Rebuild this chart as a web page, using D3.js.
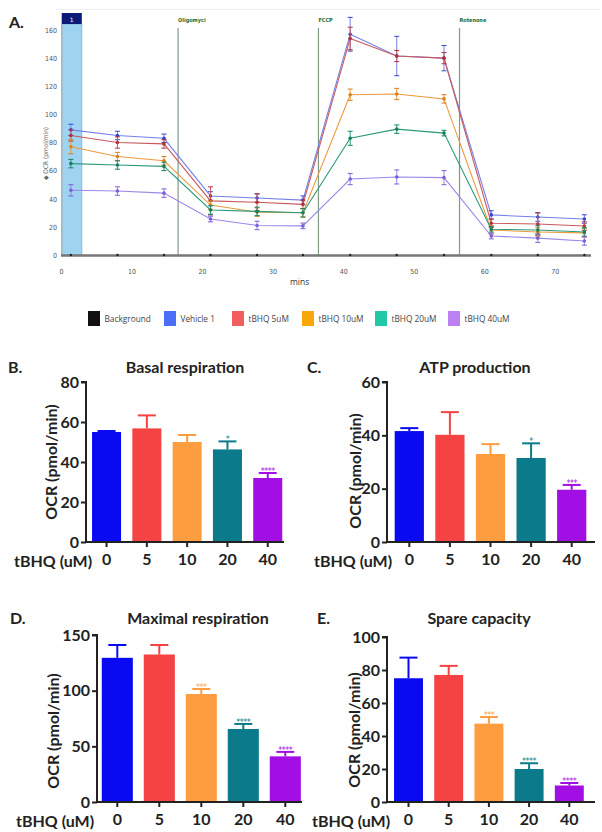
<!DOCTYPE html>
<html><head><meta charset="utf-8">
<script src="https://cdn.jsdelivr.net/npm/d3@7"></script>
<style>body{margin:0;background:#fff}svg{display:block}</style>
</head><body>
<svg id="c" width="602" height="832"></svg>
<script>
// ---------- Panel A data ----------
const times = [1.4, 8, 14.6, 21.2, 27.8, 34.3, 41, 47.6, 54.3, 61, 67.6, 74.2];
const seriesNames = ["Background", "Vehicle 1", "tBHQ 5uM", "tBHQ 10uM", "tBHQ 20uM", "tBHQ 40uM"];
const background = [0,0,0,0,0,0,0,0,0,0,0,0];
const vehicle = [89, 85, 83, 42, 40.5, 39, 157, 141.5, 140, 28.5, 27, 25.6];
const tbhq5 = [85, 80, 79, 38.5, 37.5, 36, 154, 141.5, 140, 22.6, 22, 20.6];
const tbhq10 = [77, 70, 67, 35.5, 30.5, 30, 114, 114.5, 111, 17.8, 16.4, 15.7];
const tbhq20 = [65, 64, 63, 32, 31, 30, 83, 89.5, 86.7, 18.3, 17.8, 16.4];
const tbhq40 = [46, 45.5, 44, 25.6, 21, 20.7, 54, 55.5, 55, 13.5, 12, 10];
const errBackground = [0,0,0,0,0,0,0,0,0,0,0,0];
const errVehicle = [4, 3, 3, 3, 3, 3, 12, 14, 9, 3, 3, 3];
const errT5 = [4, 4, 3, 10, 6, 3, 8, 4, 4, 3, 8, 3];
const errT10 = [5, 3, 3, 3, 3, 3, 4, 4, 3, 3, 3, 3];
const errT20 = [3, 3, 3, 3, 3, 3, 5, 3, 2, 2, 3, 3];
const errT40 = [4, 3, 3, 2, 3, 2, 4, 5, 5, 2, 3, 3];
const yTicksA = [0, 20, 40, 60, 80, 100, 120, 140, 160];
const xTicksA = [0, 10, 20, 30, 40, 50, 60, 70];
const injections = [{t: 16.6, label: "Oligomyci"}, {t: 36.5, label: "FCCP"}, {t: 56.5, label: "Rotenone"}];

// ---------- Bar panels data ----------
const doses = ["0", "5", "10", "20", "40"];
const basalMean = [55, 56.8, 50, 46.3, 32];
const basalErr = [0.5, 6.5, 3.5, 4, 2.5];
const basalStars = ["", "", "", "*", "****"];
const atpMean = [41.6, 40.2, 33, 31.5, 19.6];
const atpErr = [1.1, 8.5, 3.7, 5.5, 1.8];
const atpStars = ["", "", "", "*", "***"];
const maxMean = [129.5, 132.5, 97, 65.6, 41];
const maxErr = [11.5, 8.5, 4.5, 4.5, 4];
const maxStars = ["", "", "***", "****", "****"];
const spareMean = [75, 77, 47.5, 20, 10];
const spareErr = [12.5, 5.5, 4, 3.5, 1.5];
const spareStars = ["", "", "***", "****", "****"];

const svg = d3.select("#c");

// ================= Panel A =================
const colA = {"Background":"#111111","Vehicle 1":"#7480e8","tBHQ 5uM":"#c85a5e","tBHQ 10uM":"#eb9a3c","tBHQ 20uM":"#2a9a7c","tBHQ 40uM":"#9c86e8"};
const mkA = {"Background":"#111111","Vehicle 1":"#3845c8","tBHQ 5uM":"#b2303a","tBHQ 10uM":"#d9801a","tBHQ 20uM":"#17805e","tBHQ 40uM":"#7a5ed8"};
const legCol = {"Background":"#111111","Vehicle 1":"#4a6ef5","tBHQ 5uM":"#f25e5e","tBHQ 10uM":"#f9a80a","tBHQ 20uM":"#1fc9a6","tBHQ 40uM":"#bb80f2"};
const valsA = [background, vehicle, tbhq5, tbhq10, tbhq20, tbhq40];
const errsA = [errBackground, errVehicle, errT5, errT10, errT20, errT40];

const xA = d3.scaleLinear().domain([0, 75]).range([61, 590]);
const yA = d3.scaleLinear().domain([0, 160]).range([255, 30]);
const gA = svg.append("g");

gA.append("line").attr("x1", 55).attr("x2", 600).attr("y1", 9.5).attr("y2", 9.5).attr("stroke", "#eeeeee");
gA.append("text").text("A.").attr("x", 9).attr("y", 28).attr("font-family", "Lato, sans-serif").attr("font-weight", "bold").attr("font-size", 16).attr("fill", "#222");

// blue band
gA.append("rect").attr("x", xA(0.1)).attr("y", 24).attr("width", xA(2.95) - xA(0.1)).attr("height", yA(0) - 24)
  .attr("fill", "#9fd4f0").attr("stroke", "#6cb4dc").attr("stroke-width", 0.8);
gA.append("rect").attr("x", xA(0.1)).attr("y", 13).attr("width", xA(2.95) - xA(0.1)).attr("height", 11).attr("fill", "#0c1a78");
gA.append("text").text("1").attr("x", (xA(0.1) + xA(2.95)) / 2).attr("y", 21.5).attr("text-anchor", "middle")
  .attr("font-family", "DejaVu Sans, sans-serif").attr("font-size", 6).attr("fill", "#fff");

// left axis line
gA.append("line").attr("x1", 62).attr("x2", 62).attr("y1", 24).attr("y2", 255).attr("stroke", "#aaaaaa").attr("stroke-width", 0.8);

// injections
injections.forEach(d => {
  gA.append("line").attr("x1", xA(d.t)).attr("x2", xA(d.t)).attr("y1", 28).attr("y2", 255).attr("stroke", "#809a84").attr("stroke-width", 1.2);
  gA.append("text").text(d.label).attr("x", xA(d.t)).attr("y", 21.5).attr("font-family", "Liberation Sans Narrow, DejaVu Sans Condensed, sans-serif")
    .attr("font-size", 5.5).attr("font-weight", "bold").attr("fill", "#2c6a2c");
});

// y axis ticks
const yAx = d3.axisLeft(yA).tickValues(yTicksA).tickSize(0).tickPadding(4);
const yAg = gA.append("g").attr("transform", "translate(61,0)").call(yAx);
yAg.select(".domain").remove();
yAg.selectAll("text").attr("font-family", "Liberation Sans Narrow, DejaVu Sans Condensed, sans-serif").attr("font-size", 7).attr("fill", "#555");

// x axis
const xAx = d3.axisBottom(xA).tickValues(xTicksA).tickSize(0).tickPadding(14);
const xAg = gA.append("g").attr("transform", "translate(0,255)").call(xAx);
xAg.select(".domain").remove();
xAg.selectAll("text").attr("font-family", "Liberation Sans Narrow, DejaVu Sans Condensed, sans-serif").attr("font-size", 7).attr("fill", "#555");
gA.append("line").attr("x1", 61).attr("x2", 591).attr("y1", 255.5).attr("y2", 255.5).attr("stroke", "#777").attr("stroke-width", 2.5);

gA.append("text").text("mins").attr("x", 290).attr("y", 285).attr("font-family", "Open Sans, sans-serif").attr("font-size", 8.5).attr("fill", "#333");
gA.append("text").text("◆ OCR (pmol/min)").attr("transform", "translate(48,180) rotate(-90)")
  .attr("font-family", "Liberation Sans Narrow, DejaVu Sans Condensed, sans-serif").attr("font-size", 6.5).attr("fill", "#666");

const lineA = d3.line().x((d, i) => xA(times[i])).y(d => yA(d));
seriesNames.forEach((name, si) => {
  if (si === 0) return;
  const vals = valsA[si], errs = errsA[si];
  gA.append("path").datum(vals).attr("d", lineA).attr("fill", "none").attr("stroke", colA[name]).attr("stroke-width", 1.1);
  vals.forEach((v, i) => {
    const x = xA(times[i]);
    gA.append("line").attr("x1", x).attr("x2", x).attr("y1", yA(v - errs[i])).attr("y2", yA(v + errs[i])).attr("stroke", colA[name]).attr("stroke-width", 1);
    [v - errs[i], v + errs[i]].forEach(e => gA.append("line").attr("x1", x - 2.5).attr("x2", x + 2.5).attr("y1", yA(e)).attr("y2", yA(e)).attr("stroke", mkA[name]).attr("stroke-width", 1));
    gA.append("circle").attr("cx", x).attr("cy", yA(v)).attr("r", 1.8).attr("fill", mkA[name]);
  });
});
// background markers
background.forEach((v, i) => gA.append("circle").attr("cx", xA(times[i])).attr("cy", yA(v)).attr("r", 1.2).attr("fill", "#222"));

// legend
const legX = [88, 164, 232, 302, 375, 448];
seriesNames.forEach((name, i) => {
  gA.append("rect").attr("x", legX[i]).attr("y", 311).attr("width", 12).attr("height", 15).attr("fill", legCol[name]);
  gA.append("text").text(name).attr("x", legX[i] + 16.5).attr("y", 321.5).attr("font-family", "Open Sans, sans-serif")
    .attr("font-size", 8.3).attr("fill", "#444");
});

// ================= Bar panels =================
const barCol = ["#0a0af2", "#f54242", "#fd9d40", "#0b7b8b", "#a20fe4"];
const FONT = "Lato, 'Open Sans', sans-serif";
const FS = 16;

function barPanel(o) {
  const g = svg.append("g");
  const y = d3.scaleLinear().domain([0, o.ymax]).range([o.y0, o.y1]);
  const x = d3.scaleBand().domain(doses).range([o.x0, o.x0 + o.len]).paddingInner(o.pi).paddingOuter(o.pi / 2);
  doses.forEach((d, i) => {
    const m = o.mean[i], e = o.err[i];
    const cx = x(d) + x.bandwidth() / 2;
    g.append("line").attr("x1", cx).attr("x2", cx).attr("y1", y(m)).attr("y2", y(m + e)).attr("stroke", barCol[i]).attr("stroke-width", 2);
    g.append("line").attr("x1", cx - 9).attr("x2", cx + 9).attr("y1", y(m + e)).attr("y2", y(m + e)).attr("stroke", barCol[i]).attr("stroke-width", 2);
    g.append("rect").attr("x", x(d)).attr("y", y(m)).attr("width", x.bandwidth()).attr("height", y(0) - y(m)).attr("fill", barCol[i]);
    if (o.stars[i]) {
      g.append("text").text(o.stars[i]).attr("x", cx).attr("y", y(m + e) + 1).attr("text-anchor", "middle")
        .attr("font-family", "DejaVu Sans, sans-serif").attr("font-size", 8).attr("fill", barCol[i]).attr("letter-spacing", -0.5);
    }
  });
  const ya = d3.axisLeft(y).tickValues(o.ticks).tickSize(5).tickPadding(2);
  const yg = g.append("g").attr("transform", `translate(${o.ax},0)`).call(ya);
  yg.select(".domain").attr("stroke", "#222").attr("stroke-width", 2).attr("d", `M-5,${y(o.ymax)}H0V${o.y0}`);
  yg.selectAll(".tick line").attr("stroke", "#222").attr("stroke-width", 2);
  yg.selectAll("text").attr("font-family", FONT).attr("font-weight", "bold").attr("font-size", FS).attr("fill", "#222");
  const xa = d3.axisBottom(x).tickSize(5).tickPadding(7);
  const xg = g.append("g").attr("transform", `translate(0,${o.y0})`).call(xa);
  xg.select(".domain").attr("stroke", "#222").attr("stroke-width", 2).attr("d", `M${o.ax},0H${o.xend}`);
  xg.selectAll(".tick line").attr("stroke", "#222").attr("stroke-width", 2);
  xg.selectAll("text").attr("font-family", FONT).attr("font-weight", "bold").attr("font-size", FS).attr("fill", "#222");
  g.append("text").text("tBHQ (uM)").attr("x", o.lblx).attr("y", o.y0 + 25).attr("font-family", FONT).attr("font-weight", "bold").attr("font-size", FS).attr("fill", "#222");
  g.append("text").text(o.title).attr("x", o.tx).attr("y", o.ty).attr("text-anchor", "middle").attr("font-family", FONT).attr("font-weight", "bold").attr("font-size", FS).attr("fill", "#222");
  g.append("text").text(o.letter).attr("x", o.lx).attr("y", o.ty).attr("font-family", FONT).attr("font-weight", "bold").attr("font-size", FS).attr("fill", "#222");
  g.append("text").text("OCR (pmol/min)").attr("transform", `translate(${o.ylx},${o.yly}) rotate(-90)`).attr("text-anchor", "middle")
    .attr("font-family", FONT).attr("font-weight", "bold").attr("font-size", FS).attr("fill", "#222");
}

barPanel({letter: "B.", title: "Basal respiration", mean: basalMean, err: basalErr, stars: basalStars, ymax: 80, ticks: [0,20,40,60,80],
  ax: 86, x0: 86.4, len: 201.5, pi: 0.28, xend: 284, y0: 542, y1: 382, tx: 185, ty: 373, lx: 8, ylx: 57, yly: 462, lblx: 14});
barPanel({letter: "C.", title: "ATP production", mean: atpMean, err: atpErr, stars: atpStars, ymax: 60, ticks: [0,20,40,60],
  ax: 387, x0: 389, len: 203, pi: 0.28, xend: 595, y0: 542, y1: 382, tx: 475, ty: 373, lx: 307, ylx: 361, yly: 471, lblx: 314});
barPanel({letter: "D.", title: "Maximal respiration", mean: maxMean, err: maxErr, stars: maxStars, ymax: 150, ticks: [0,50,100,150],
  ax: 97, x0: 96.3, len: 210, pi: 0.26, xend: 302, y0: 802, y1: 635, tx: 198, ty: 624, lx: 10, ylx: 59, yly: 731, lblx: 16});
barPanel({letter: "E.", title: "Spare capacity", mean: spareMean, err: spareErr, stars: spareStars, ymax: 100, ticks: [0,20,40,60,80,100],
  ax: 387, x0: 388.4, len: 201, pi: 0.28, xend: 595, y0: 802, y1: 637, tx: 479, ty: 624, lx: 317, ylx: 360, yly: 730, lblx: 312});
</script>
</body></html>
